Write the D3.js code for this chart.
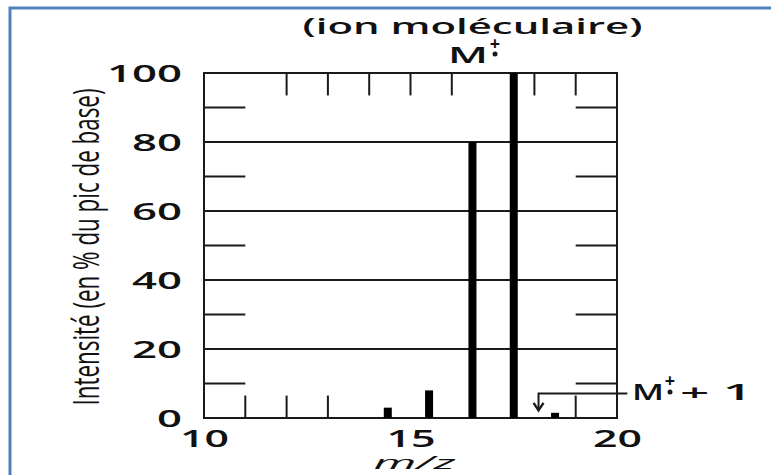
<!DOCTYPE html>
<html>
<head>
<meta charset="utf-8">
<script src="https://cdn.jsdelivr.net/npm/d3@7"></script>
<style>
body { margin: 0; background: #fff; }
text { font-family: "Open Sans", sans-serif; fill: #111; }
</style>
</head>
<body>
<div id="chart"></div>
<script>
var w = 771; // Set the width
var h = 475; // Set the height

// peaks: m/z and intensity (% of base peak)
var mz = [14.45, 15.45, 16.5, 17.5, 18.5];
var intensity = [3, 8, 80, 100, 1.5];

// axis ticks
var yTicks = [0, 20, 40, 60, 80, 100];
var yGrid = [20, 40, 60, 80];
var yMinor = [10, 30, 50, 70, 90];
var xTicks = [10, 15, 20];
var topTicks = [12, 13, 14, 15, 16, 18, 19];
var bottomTicks = [11, 12, 13, 19];

var xScale = d3.scaleLinear().domain([10, 20]).range([204, 617]);
var yScale = d3.scaleLinear().domain([0, 100]).range([418, 73]);

var svg = d3.select("#chart")
    .append("svg")
    .attr("width", w)
    .attr("height", h);

// blue frame round the picture
svg.append("rect")
    .attr("x", 10)
    .attr("y", 8)
    .attr("width", 800)
    .attr("height", 500)
    .attr("fill", "none")
    .attr("stroke", "#4f81bd")
    .attr("stroke-width", 3);

var ink = "#1a1a1a";

// full grid lines
svg.selectAll(".grid")
    .data(yGrid)
    .enter()
    .append("line")
    .attr("x1", xScale(10))
    .attr("x2", xScale(20))
    .attr("y1", function(d) { return yScale(d); })
    .attr("y2", function(d) { return yScale(d); })
    .attr("stroke", ink)
    .attr("stroke-width", 1.8);

// short ticks on left and right sides
yMinor.forEach(function(v) {
    svg.append("line")
        .attr("x1", xScale(10)).attr("x2", xScale(11))
        .attr("y1", yScale(v)).attr("y2", yScale(v))
        .attr("stroke", ink).attr("stroke-width", 1.8);
    svg.append("line")
        .attr("x1", xScale(19)).attr("x2", xScale(20))
        .attr("y1", yScale(v)).attr("y2", yScale(v))
        .attr("stroke", ink).attr("stroke-width", 1.8);
});

// ticks hanging from the top
svg.selectAll(".ttick")
    .data(topTicks)
    .enter()
    .append("line")
    .attr("x1", function(d) { return xScale(d); })
    .attr("x2", function(d) { return xScale(d); })
    .attr("y1", yScale(100))
    .attr("y2", yScale(93.5))
    .attr("stroke", ink)
    .attr("stroke-width", 2);

// ticks standing on the bottom
svg.selectAll(".btick")
    .data(bottomTicks)
    .enter()
    .append("line")
    .attr("x1", function(d) { return xScale(d); })
    .attr("x2", function(d) { return xScale(d); })
    .attr("y1", yScale(0))
    .attr("y2", yScale(6.5))
    .attr("stroke", ink)
    .attr("stroke-width", 2);

// plot box
svg.append("rect")
    .attr("x", xScale(10))
    .attr("y", yScale(100))
    .attr("width", xScale(20) - xScale(10))
    .attr("height", yScale(0) - yScale(100))
    .attr("fill", "none")
    .attr("stroke", ink)
    .attr("stroke-width", 2);

// peaks
svg.selectAll(".peak")
    .data(mz)
    .enter()
    .append("rect")
    .attr("x", function(d) { return xScale(d) - 4; })
    .attr("width", 8)
    .attr("y", function(d, i) { return yScale(intensity[i]); })
    .attr("height", function(d, i) { return yScale(0) - yScale(intensity[i]); })
    .attr("fill", "#000");

// y axis labels
var yAxis = d3.axisLeft(yScale).tickValues(yTicks).tickSize(0).tickPadding(22);
var gy = svg.append("g")
    .attr("transform", "translate(" + xScale(10) + ",0)")
    .call(yAxis);
gy.select(".domain").remove();
gy.selectAll("text")
    .style("font-family", "'Open Sans', sans-serif")
    .style("font-size", "24px")
    .style("font-weight", "600")
    .attr("fill", ink)
    .attr("dy", "0.36em")
    .attr("textLength", function(d) { return String(d).length * 25; })
    .attr("lengthAdjust", "spacingAndGlyphs");

// x axis labels
var xAxis = d3.axisBottom(xScale).tickValues(xTicks).tickSize(0).tickPadding(12);
var gx = svg.append("g")
    .attr("transform", "translate(0," + yScale(0) + ")")
    .call(xAxis);
gx.select(".domain").remove();
gx.selectAll("text")
    .style("font-family", "'Open Sans', sans-serif")
    .style("font-size", "24px")
    .style("font-weight", "600")
    .attr("fill", ink)
    .attr("textLength", 49)
    .attr("lengthAdjust", "spacingAndGlyphs");

// x axis title
svg.append("text")
    .attr("x", xScale(15.1))
    .attr("y", 469)
    .attr("text-anchor", "middle")
    .style("font-size", "19px")
    .style("font-style", "italic")
    .attr("textLength", 82)
    .attr("lengthAdjust", "spacingAndGlyphs")
    .text("m/z");

// y axis title
svg.append("text")
    .attr("transform", "translate(99,247) scale(1.75,1) rotate(-90)")
    .attr("text-anchor", "middle")
    .style("font-size", "21px")
    .attr("textLength", 317)
    .attr("lengthAdjust", "spacingAndGlyphs")
    .text("Intensité (en % du pic de base)");

// molecular ion title
svg.append("text")
    .attr("x", xScale(16.5))
    .attr("y", 34)
    .attr("text-anchor", "middle")
    .style("font-size", "22px")
    .style("font-weight", "600")
    .attr("textLength", 340)
    .attr("lengthAdjust", "spacingAndGlyphs")
    .text("(ion moléculaire)");

svg.append("text")
    .attr("x", 468)
    .attr("y", 63)
    .attr("text-anchor", "middle")
    .style("font-size", "22px")
    .style("font-weight", "600")
    .attr("textLength", 40)
    .attr("lengthAdjust", "spacingAndGlyphs")
    .text("M");
svg.append("text")
    .attr("x", 495)
    .attr("y", 50)
    .attr("text-anchor", "middle")
    .style("font-size", "18px")
    .style("font-weight", "700")
    .text("+");
svg.append("circle")
    .attr("cx", 495).attr("cy", 54).attr("r", 2.5).attr("fill", ink);

// M+1 annotation with arrow
var ax = xScale(18.1), ay = yScale(7.1);
svg.append("path")
    .attr("d", "M" + xScale(20.25) + "," + ay + "H" + ax + "V" + yScale(2.4))
    .attr("fill", "none")
    .attr("stroke", ink)
    .attr("stroke-width", 2);
svg.append("path")
    .attr("d", "M" + (ax - 5) + "," + yScale(4.4) + "L" + ax + "," + yScale(2.2) + "L" + (ax + 5) + "," + yScale(4.4))
    .attr("fill", "none")
    .attr("stroke", ink)
    .attr("stroke-width", 2.4);

var lx = xScale(20) + 15;
svg.append("text")
    .attr("x", lx)
    .attr("y", 400)
    .style("font-size", "22px")
    .style("font-weight", "600")
    .attr("textLength", 32)
    .attr("lengthAdjust", "spacingAndGlyphs")
    .text("M");
svg.append("text")
    .attr("x", lx + 38)
    .attr("y", 387)
    .attr("text-anchor", "middle")
    .style("font-size", "18px")
    .style("font-weight", "700")
    .text("+");
svg.append("circle")
    .attr("cx", lx + 38).attr("cy", 392).attr("r", 2.5).attr("fill", ink);
svg.append("text")
    .attr("x", lx + 48)
    .attr("y", 400)
    .style("font-size", "22px")
    .style("font-weight", "600")
    .attr("textLength", 72)
    .attr("lengthAdjust", "spacingAndGlyphs")
    .text("+ 1");
</script>
</body>
</html>
